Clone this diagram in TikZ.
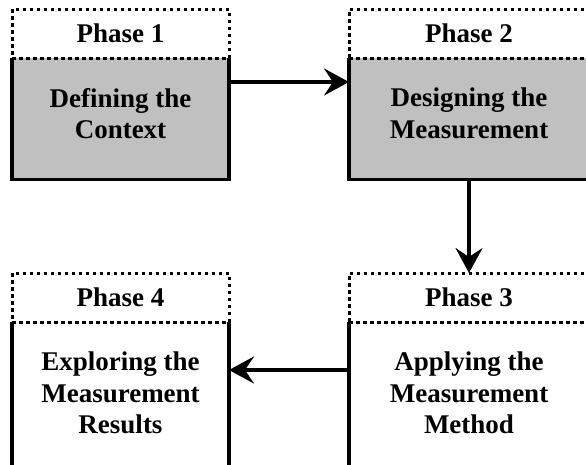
\documentclass[tikz,border=0pt]{standalone}
\usepackage{fontspec}
\setmainfont{Liberation Serif}
\usetikzlibrary{arrows.meta}
\usetikzlibrary{positioning}
\usetikzlibrary{calc}
\definecolor{phasegray}{RGB}{192,192,192}
\tikzset{
    phasefont/.style={font=\fontsize{27}{31.5}\selectfont\bfseries},
    phasehead/.style={phasefont, draw, line width=3pt, dash pattern=on 3.5pt off 3.5pt, fill=white, outer sep=0pt, inner sep=0pt, minimum height=49pt},
    phasebody/.style={phasefont, outer sep=0pt, inner xsep=0pt, inner ysep=30pt, text depth=11pt, align=center},
    leftcol/.style={minimum width=217pt},
    rightcol/.style={minimum width=240pt},
    phaseedge/.style={line width=3.4pt},
    flow/.style={line width=3.4pt, -{Stealth[length=25pt, width=27pt, inset=9pt]}}
}

\begin{document}
\begin{tikzpicture}[x=1pt, y=-1pt]
            \clip (0,0) rectangle (586,464);

            \node[phasehead, leftcol, anchor=north west] (h1) at (12,9) {Phase 1};
            \node[phasebody, leftcol, fill=phasegray, below=0pt of h1] (b1) {Defining the\\Context};
            \node[phasehead, rightcol, anchor=north west] (h2) at (349,9) {Phase 2};
            \node[phasebody, rightcol, fill=phasegray, below=0pt of h2] (b2) {Designing the\\Measurement};

            \node[phasehead, rightcol, anchor=north west] (h3) at (349,273) {Phase 3};
            \node[phasebody, rightcol, below=0pt of h3] (b3) {Applying the\\Measurement\\Method};
            \node[phasehead, leftcol, anchor=north west] (h4) at (12,273) {Phase 4};
            \node[phasebody, leftcol, below=0pt of h4] (b4) {Exploring the\\Measurement\\Results};

            \foreach \b in {b1,b2,b3,b4}
                \draw[phaseedge] (\b.north west) -- (\b.south west) -- (\b.south east) -- (\b.north east);
            \foreach \h in {h1,h2,h3,h4}
                \draw[line width=3pt, dash pattern=on 3.5pt off 3.5pt] (\h.south west) -- (\h.south east);

            \draw[flow] ($(b1.north east)+(0,24)$) -- ($(b2.north west)+(0,24)$);
            \draw[flow] (b2.south) -- (h3.north);
            \draw[flow] ($(b3.north west)+(0,48)$) -- ($(b4.north east)+(0,48)$);
        \end{tikzpicture}
\end{document}
